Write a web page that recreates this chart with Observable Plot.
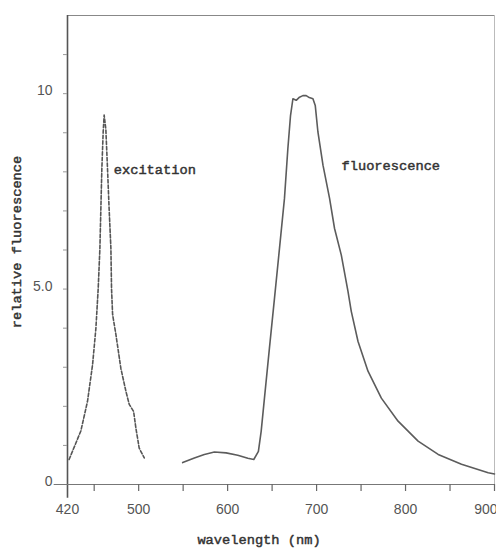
<!DOCTYPE html>
<html>
<head>
<meta charset="utf-8">
<script src="https://cdn.jsdelivr.net/npm/d3@7"></script>
<script src="https://cdn.jsdelivr.net/npm/@observablehq/plot@0.6"></script>
<style>
  html, body { margin: 0; padding: 0; background: #ffffff; }
  #chart svg { display: block; }
</style>
</head>
<body>
<div id="chart"></div>
<script>
// Excitation spectrum (dashed)
const excitationWl  = [421.8, 425.6, 435, 442.5, 448.2, 451.9, 454.5, 456.4, 457.5, 458.6, 460.1, 461.2, 463.1, 465, 466.8, 468.8, 469.5, 470.7, 474.4, 480, 485.6, 489.4, 494.3, 496.9, 500.6, 506.3];
const excitationVal = [0.64, 0.85, 1.37, 2.13, 3.07, 3.99, 5.01, 6.03, 7.05, 8.07, 9.02, 9.45, 9.09, 8.07, 7.05, 6.03, 5.01, 4.35, 3.84, 2.97, 2.39, 2.05, 1.87, 1.44, 0.93, 0.68];

// Fluorescence spectrum (solid)
const fluorescenceWl  = [549.5, 562.6, 573.8, 585.1, 598.3, 611.4, 622.7, 629.4, 634.6, 637.7, 641.4, 647, 652.7, 658.3, 663.9, 667.7, 670.7, 673.4, 677.1, 680.8, 684.6, 688.3, 691, 695.9, 698.5, 701.5, 707.2, 714.6, 720.2, 727.8, 735.3, 739, 746.6, 757.8, 772.8, 791.6, 814.1, 836.7, 862.9, 892.9, 900];
const fluorescenceVal = [0.56, 0.68, 0.77, 0.83, 0.81, 0.75, 0.67, 0.64, 0.85, 1.36, 2.21, 3.49, 4.77, 6.04, 7.32, 8.59, 9.44, 9.87, 9.83, 9.91, 9.95, 9.95, 9.91, 9.87, 9.7, 9.02, 8.17, 7.32, 6.55, 5.87, 4.94, 4.43, 3.66, 2.9, 2.21, 1.62, 1.11, 0.77, 0.52, 0.30, 0.27];

// Tick values and labels
const xTickLabels = [420, 500, 600, 700, 800];
const xLastTickLabel = [900];
const xMinorTicks = [450, 500, 550, 600, 650, 700, 750, 800, 850, 900];
const yTickLabels = [0, 5, 10];
const yMinorTicks = [1, 2, 3, 4, 5, 6, 7, 8, 9, 10, 11];

// Curve annotations
const curveLabels = ["excitation", "fluorescence"];
const curveLabelWl = [472, 728];
const curveLabelVal = [8.05, 8.15];

const excitation = excitationWl.map((w, i) => ({w, v: excitationVal[i]}));
const fluorescence = fluorescenceWl.map((w, i) => ({w, v: fluorescenceVal[i]}));
const annotations = curveLabels.map((t, i) => ({t, w: curveLabelWl[i], v: curveLabelVal[i]}));

const mono = "'Liberation Mono', 'DejaVu Sans Mono', monospace";
const sans = "'Liberation Sans', Arial, sans-serif";
const monoStyle = {fontSize: 13.7, fontFamily: mono, fontWeight: "normal", fill: "#333", stroke: "#333", strokeWidth: 0.45};

const chart = Plot.plot({
  width: 496,
  height: 549,
  marginLeft: 67,
  marginRight: 2,
  marginTop: 15,
  marginBottom: 65,
  style: {background: "#ffffff", color: "#555"},
  x: {domain: [420, 900]},
  y: {domain: [0, 12]},
  marks: [
    // frame: top and right (light), axes lines (dark)
    Plot.ruleY([12], {x1: 420, x2: 900, stroke: "#888", strokeWidth: 1.2}),
    Plot.ruleX([900], {y1: 0, y2: 12, stroke: "#bbb", strokeWidth: 1}),
    Plot.ruleX([420], {y1: -0.35, y2: 12, stroke: "#555", strokeWidth: 1.6}),
    Plot.ruleY([0], {x1: 405, x2: 900, stroke: "#777", strokeWidth: 1.2}),
    // minor ticks
    Plot.axisX(xMinorTicks, {tickSize: 7, text: null, label: null, stroke: "#666", strokeWidth: 1.2}),
    Plot.axisY(yMinorTicks, {tickSize: 4, text: null, label: null, stroke: "#999"}),
    // tick labels
    Plot.axisX(xTickLabels, {tickSize: 0, tickPadding: 20, fontSize: 14, fontFamily: sans, fill: "#555", label: null}),
    Plot.axisX(xLastTickLabel, {tickSize: 0, tickPadding: 20, fontSize: 14, fontFamily: sans, fill: "#555", label: null, textAnchor: "end", dx: 3}),
    Plot.axisY(yTickLabels, {tickSize: 0, tickPadding: 15, fontSize: 14, fontFamily: sans, fill: "#555", label: null, dy: -3,
      tickFormat: d => d === 5 ? "5.0" : String(d)}),
    // curves
    Plot.line(excitation, {x: "w", y: "v", stroke: "#555", strokeWidth: 1.6, strokeDasharray: "3.5,2"}),
    Plot.line(fluorescence, {x: "w", y: "v", stroke: "#5c5c5c", strokeWidth: 1.6}),
    // curve labels
    Plot.text(annotations, {x: "w", y: "v", text: "t", textAnchor: "start", ...monoStyle}),
    // axis titles
    Plot.text(["relative fluorescence"], {frameAnchor: "left", textAnchor: "middle", dx: -51, dy: -8, rotate: -90, ...monoStyle}),
    Plot.text(["wavelength (nm)"], {frameAnchor: "bottom", textAnchor: "middle", dx: -22, dy: 59, ...monoStyle})
  ]
});
document.getElementById("chart").appendChild(chart);
</script>
</body>
</html>
